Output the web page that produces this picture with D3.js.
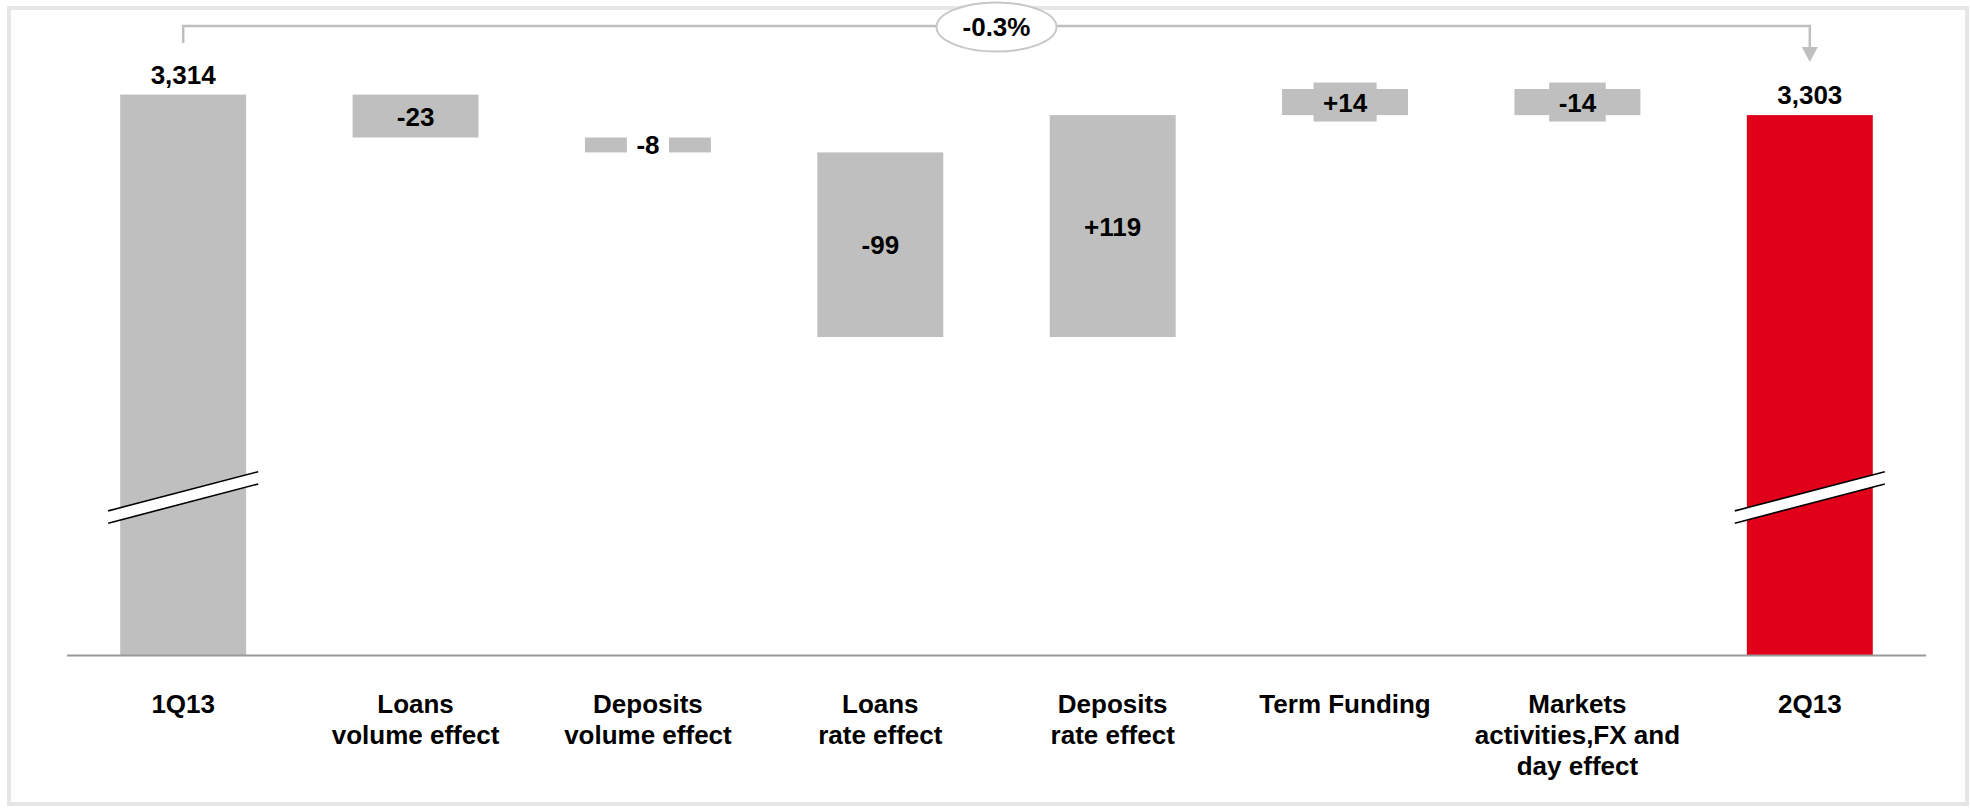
<!DOCTYPE html>
<html>
<head>
<meta charset="utf-8">
<script src="https://cdn.jsdelivr.net/npm/d3@7"></script>
<style>
    body { margin: 0; background: #fff; }
    svg text { font-family: "Liberation Sans", Arial, sans-serif; font-weight: bold; fill: #000; }
</style>
</head>
<body>
<div id="chart"></div>
<script>
// Net interest income bridge, 1Q13 -> 2Q13
const categories = [
    ["1Q13"],
    ["Loans", "volume effect"],
    ["Deposits", "volume effect"],
    ["Loans", "rate effect"],
    ["Deposits", "rate effect"],
    ["Term Funding"],
    ["Markets", "activities,FX and", "day effect"],
    ["2Q13"]
];
const values = [3314, -23, -8, -99, 119, 14, -14, 3303];
const kinds = ["total", "delta", "delta", "delta", "delta", "delta", "delta", "total"];
const valueLabels = ["3,314", "-23", "-8", "-99", "+119", "+14", "-14", "3,303"];
const totalChange = "-0.3%";
const axisMin = 3013.5;   // broken axis, bars do not start at zero
const axisTop = 3317;
const breakValue = 3098;  // where the break marks sit on the total bars

const width = 1970, height = 808;

const svg = d3.select("#chart").append("svg")
    .attr("width", width)
    .attr("height", height);

// frame
svg.append("rect")
    .attr("x", 9).attr("y", 8)
    .attr("width", 1958).attr("height", 796)
    .attr("fill", "#fff")
    .attr("stroke", "#e6e6e6")
    .attr("stroke-width", 4);

const x = d3.scaleBand()
    .domain(d3.range(categories.length))
    .range([67, 1926])
    .paddingInner(0.458)
    .paddingOuter(0.229);

const y = d3.scaleLinear()
    .domain([axisMin, axisTop])
    .range([655, 89]);

// running totals for the waterfall
let running = 0;
const bars = values.map((v, i) => {
    let lo, hi;
    if (kinds[i] === "total") {
        lo = axisMin; hi = v; running = v;
    } else {
        const next = running + v;
        lo = Math.min(running, next); hi = Math.max(running, next);
        running = next;
    }
    return {i, v, lo, hi, kind: kinds[i], label: valueLabels[i]};
});

const colour = d => d.i === values.length - 1 ? "#e1001a" : "#bfbfbf";

svg.selectAll(".bar")
    .data(bars)
    .join("rect")
    .attr("class", "bar")
    .attr("x", d => x(d.i))
    .attr("y", d => y(d.hi))
    .attr("width", x.bandwidth())
    .attr("height", d => y(d.lo) - y(d.hi))
    .attr("fill", colour);

// baseline
svg.append("line")
    .attr("x1", x.range()[0]).attr("x2", x.range()[1])
    .attr("y1", y(axisMin) + 0.5).attr("y2", y(axisMin) + 0.5)
    .attr("stroke", "#999")
    .attr("stroke-width", 2);

// axis break marks on the total bars
const by = y(breakValue);
bars.filter(d => d.kind === "total").forEach(d => {
    const cx = x(d.i) + x.bandwidth() / 2;
    const g = svg.append("g");
    const x0 = cx - 75, x1 = cx + 75, rise = 19.6, gap = 12.3;
    const top = by - gap / 2, bot = by + gap / 2;
    g.append("polygon")
        .attr("points", `${x0},${top + rise} ${x1},${top - rise} ${x1},${bot - rise} ${x0},${bot + rise}`)
        .attr("fill", "#fff");
    [top, bot].forEach(c => {
        g.append("line")
            .attr("x1", x0).attr("y1", c + rise)
            .attr("x2", x1).attr("y2", c - rise)
            .attr("stroke", "#000")
            .attr("stroke-width", 1.6);
    });
});

// value labels
const fontSize = 26;
bars.forEach(d => {
    const cx = x(d.i) + x.bandwidth() / 2;
    if (d.kind === "total") {
        svg.append("text")
            .attr("x", cx)
            .attr("y", y(d.hi) - 11)
            .attr("text-anchor", "middle")
            .style("font-size", fontSize + "px")
            .text(d.label);
        return;
    }
    const cy = (y(d.lo) + y(d.hi)) / 2;
    const barH = y(d.lo) - y(d.hi);
    const t = svg.append("text")
        .attr("x", cx)
        .attr("y", cy + 9.5)
        .attr("text-anchor", "middle")
        .style("font-size", fontSize + "px")
        .text(d.label);
    if (barH < 30) {
        // small bars get a box behind the label
        const w = t.node().getComputedTextLength() + 19;
        svg.insert("rect", () => t.node())
            .attr("x", cx - w / 2)
            .attr("y", cy - 19.5)
            .attr("width", w)
            .attr("height", 39)
            .attr("fill", barH < 20 ? "#fff" : "#bfbfbf");
    }
});

// category labels
svg.selectAll(".cat")
    .data(categories)
    .join("text")
    .attr("class", "cat")
    .attr("text-anchor", "middle")
    .attr("x", (d, i) => x(i) + x.bandwidth() / 2)
    .attr("y", 713)
    .style("font-size", fontSize + "px")
    .selectAll("tspan")
    .data(d => d)
    .join("tspan")
    .attr("x", function () { return this.parentNode.getAttribute("x"); })
    .attr("dy", (d, i) => i === 0 ? 0 : 31)
    .text(d => d);

// overall change bracket
const xa = x(0) + x.bandwidth() / 2;
const xb = x(values.length - 1) + x.bandwidth() / 2;
const topY = 26;
svg.append("path")
    .attr("d", `M${xa},43 V${topY} H${xb} V48`)
    .attr("fill", "none")
    .attr("stroke", "#bfbfbf")
    .attr("stroke-width", 2.5);
svg.append("path")
    .attr("d", `M${xb - 8},47 L${xb + 8},47 L${xb},62 Z`)
    .attr("fill", "#bfbfbf");

svg.append("ellipse")
    .attr("cx", (xa + xb) / 2)
    .attr("cy", 27)
    .attr("rx", 60)
    .attr("ry", 24.5)
    .attr("fill", "#fff")
    .attr("stroke", "#c8c8c8")
    .attr("stroke-width", 2);
svg.append("text")
    .attr("x", (xa + xb) / 2)
    .attr("y", 36)
    .attr("text-anchor", "middle")
    .style("font-size", fontSize + "px")
    .text(totalChange);
</script>
</body>
</html>
